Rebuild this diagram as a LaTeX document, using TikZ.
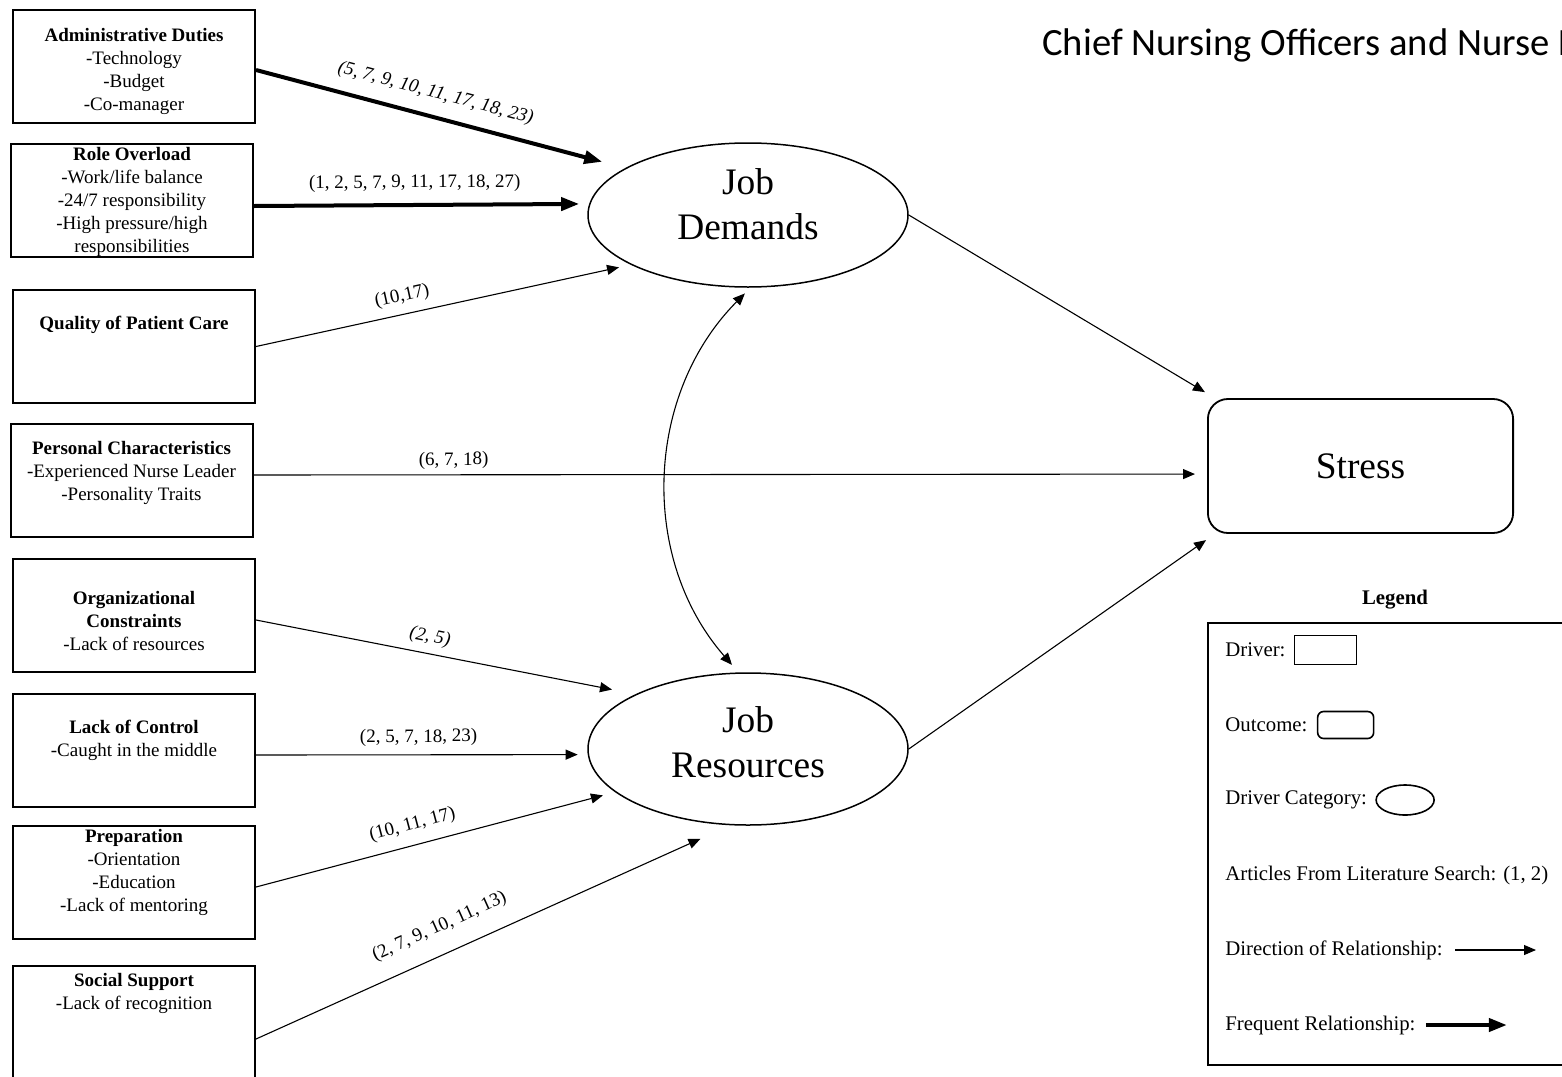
\documentclass[tikz,border=0pt]{standalone}
\usepackage{fontspec}
\setmainfont{Liberation Serif}
\newfontfamily\titlefont{Carlito}
\usetikzlibrary{positioning,shapes.geometric,arrows.meta}

\tikzset{
  driver/.style={draw, line width=1pt, minimum width=121pt, minimum height=56.5pt, inner sep=0pt},
  drvtext/.style={anchor=north, align=center, inner sep=0pt, font=\fontsize{9.5pt}{11.5pt}\selectfont},
  category/.style={draw, ellipse, line width=0.75pt, minimum width=160pt, inner sep=0pt},
  catlbl/.style={align=center, inner sep=0pt, font=\fontsize{18.7pt}{22.5pt}\selectfont},
  outcome/.style={draw, rounded corners=10pt, line width=0.9pt, minimum width=152.6pt, minimum height=67pt, font=\fontsize{18.7pt}{22.5pt}\selectfont},
  link/.style={-{Triangle[length=6pt,width=5pt]}, line width=0.55pt},
  twoway/.style={{Triangle[length=6pt,width=5pt]}-{Triangle[length=6pt,width=5pt]}, line width=0.55pt},
  freq/.style={-{Triangle[length=9pt,width=6.5pt]}, line width=2pt},
  cite/.style={font=\fontsize{9.5pt}{11pt}\selectfont, inner sep=1pt, sloped},
  legtext/.style={anchor=west, inner sep=0pt, font=\fontsize{10.4pt}{12pt}\selectfont},
}

\begin{document}
\begin{tikzpicture}[x=0.5pt, y=-0.5pt]
\useasboundingbox (0,0) rectangle (1562,1076);
\clip (0,0) rectangle (1562,1076);

% drivers
\node[driver] (admin) at (134,66) {};
\node[drvtext] (admintxt) at (134,28) {\textbf{Administrative Duties}\\-Technology\\-Budget\\-Co-manager};
\node[driver] (role) at (132,200.5) {};
\node[drvtext] (roletxt) at (132,147) {\textbf{Role Overload}\\-Work/life balance\\-24/7 responsibility\\-High pressure/high\\responsibilities};
\node[driver] (quality) at (134,346.5) {};
\node[drvtext] (qualitytxt) at (134,316) {\textbf{Quality of Patient Care}};
\node[driver] (personal) at (131.5,480.5) {};
\node[drvtext] (personaltxt) at (131.5,441) {\textbf{Personal Characteristics}\\-Experienced Nurse Leader\\-Personality Traits};
\node[driver] (org) at (134,615.5) {};
\node[drvtext] (orgtxt) at (134,591) {\textbf{Organizational}\\\textbf{Constraints}\\-Lack of resources};
\node[driver] (loc) at (134,750.5) {};
\node[drvtext] (loctxt) at (134,720) {\textbf{Lack of Control}\\-Caught in the middle};
\node[driver] (prep) at (134,882) {};
\node[drvtext] (preptxt) at (134,829) {\textbf{Preparation}\\-Orientation\\-Education\\-Lack of mentoring};
\node[driver] (social) at (134,1022.5) {};
\node[drvtext] (socialtxt) at (134,973) {\textbf{Social Support}\\-Lack of recognition};

% categories and outcome
\node[category, minimum height=72pt, label={[catlbl, yshift=5.25pt]center:{Job\\Demands}}] (jd) at (748,215) {};
\node[category, minimum height=76pt, label={[catlbl, yshift=3.5pt]center:{Job\\Resources}}] (jr) at (748,749) {};
\node[outcome] (stress) at (1360.5,466) {Stress};

\node[anchor=west, inner sep=0pt, font=\titlefont\fontsize{19.3pt}{23pt}\selectfont] (title) at (1042,45) {Chief Nursing Officers and Nurse D};

% relationships
\draw[freq, shorten >=12pt] ([yshift=-2pt]admin.east) -- (jd.159) node[cite, pos=0.47, above=5.4pt] {\textit{(5, 7, 9, 10, 11, 17, 18, 23)}};
\draw[freq, shorten >=5pt] ([yshift=-2.75pt]role.east) -- (jd.176.75) node[cite, pos=0.48, above=4.6pt] {(1, 2, 5, 7, 9, 11, 17, 18, 27)};
\draw[link, shorten >=6pt] (quality.east) -- (jd.203) node[cite, pos=0.4, above=3.3pt] {(10,17)};
\draw[link, shorten >=6pt] ([yshift=2.75pt]personal.east) -- (stress.183.4) node[cite, pos=0.21, above=1.6pt] {(6, 7, 18)};
\draw[link, shorten >=12pt] ([yshift=-2.25pt]org.east) -- (jr.154.1) node[cite, pos=0.45, above=2.6pt] {\textit{(2, 5)}};
\draw[link, shorten >=5pt] ([yshift=-2.25pt]loc.east) -- (jr.182.15) node[cite, pos=0.49, above=3.1pt] {(2, 5, 7, 18, 23)};
\draw[link, shorten >=6.3pt] ([yshift=-2.5pt]prep.east) -- (jr.198.5) node[cite, pos=0.45, above=4.5pt] {(10, 11, 17)};
\draw[link, shorten >=16.4pt] ([yshift=-8.25pt]social.east) -- (jr.257.2) node[cite, pos=0.41, above=7.8pt] {(2, 7, 9, 10, 11, 13)};
\draw[link, shorten >=5.8pt] (jd.east) -- (stress.155.7);
\draw[link, shorten >=5.4pt] (jr.east) -- (stress.205.8);
\draw[twoway, shorten <=5pt, shorten >=4pt] (jr.97) to[bend left=43] (jd.272);

% legend
\node[font=\bfseries\fontsize{10.4pt}{12pt}\selectfont] (legendttl) at (1395,600) {Legend};
\node[draw, line width=1pt, minimum width=186pt, minimum height=221pt, inner sep=0pt] (legend) at (1394,843.5) {};
\node[legtext] (lgdrv) at (1225,650) {Driver:};
\node[draw, line width=0.8pt, minimum width=31pt, minimum height=14.5pt, inner sep=0pt, right=4pt of lgdrv] (lgdrvbox) {};
\node[legtext] (lgout) at (1225,725) {Outcome:};
\node[draw, rounded corners=3pt, line width=0.8pt, minimum width=28pt, minimum height=13.5pt, inner sep=0pt, right=4.5pt of lgout] (lgoutbox) {};
\node[legtext] (lgcat) at (1225,800) {Driver Category:};
\node[draw, ellipse, line width=0.8pt, minimum width=29pt, minimum height=15pt, inner sep=0pt, right=4pt of lgcat] (lgcatbox) {};
\node[legtext] (lgart) at (1225,875) {Articles From Literature Search: (1, 2)};
\node[legtext] (lgdir) at (1225,950) {Direction of Relationship:};
\coordinate[right=6pt of lgdir] (lgdirA);
\coordinate[right=40.5pt of lgdirA] (lgdirB);
\draw[link] (lgdirA) -- (lgdirB);
\node[legtext] (lgfrq) at (1225,1025) {Frequent Relationship:};
\coordinate[right=5pt of lgfrq] (lgfrqA);
\coordinate[right=40.5pt of lgfrqA] (lgfrqB);
\draw[freq] (lgfrqA) -- (lgfrqB);
\end{tikzpicture}
\end{document}
